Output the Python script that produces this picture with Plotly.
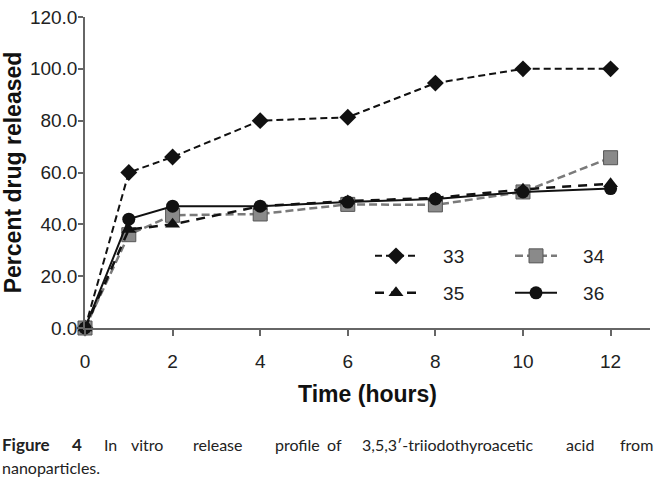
"""
In vitro release profile (Figure 4) rebuilt with Plotly.
"""

import plotly.graph_objects as go

# ───────── data ─────────
time_h = [0, 1, 2, 4, 6, 8, 10, 12]
s33 = [0, 60.0, 66.0, 80.0, 81.3, 94.5, 100.0, 100.0]
s34 = [0, 36.0, 43.5, 44.0, 47.7, 47.5, 52.5, 65.7]
s35 = [0, 38.0, 40.0, 47.0, 49.0, 50.2, 53.5, 55.7]
s36 = [0, 42.0, 47.0, 47.0, 48.6, 49.8, 52.5, 53.8]

x_ticks = [0, 2, 4, 6, 8, 10, 12]
y_ticks = [0, 20, 40, 60, 80, 100, 120]

caption_words = ["<b>Figure</b>", "<b>4</b>", "In", "vitro", "release", "profile",
                 "of", "3,5,3′-triiodothyroacetic", "acid", "from"]
# centre of each word in the justified first line (px)
caption_word_px = [0, 77, 110, 147, 218, 297, 334, 447, 580, 655]
caption_line2 = "nanoparticles."

# plot area in pixels (for placing caption words)
L, R, T, B = 85, 5, 17, 152
W, H = 655, 480
PW, PH = W - L - R, H - T - B

fig = go.Figure()

# ═══════════════ series ═══════════════
pad = "\u00a0" * 4
fig.add_trace(go.Scatter(
    x=time_h, y=s33, name=pad + "33", mode="lines+markers", legend="legend",
    line=dict(color="#111111", width=2, dash="7px,4px"),
    marker=dict(symbol="diamond", size=13, color="#111111"),
    cliponaxis=False,
))
fig.add_trace(go.Scatter(
    x=time_h, y=s34, name=pad + "34", mode="lines+markers", legend="legend",
    legendwidth=50,
    line=dict(color="#7a7a7a", width=2.5, dash="8px,4px"),
    marker=dict(symbol="square", size=14, color="#8a8a8a",
                line=dict(color="#555555", width=1)),
    cliponaxis=False,
))
fig.add_trace(go.Scatter(
    x=time_h, y=s35, name=pad + "35", mode="lines+markers", legend="legend2",
    line=dict(color="#111111", width=2.5, dash="9px,7px"),
    marker=dict(symbol="triangle-up", size=13, color="#111111"),
    cliponaxis=False,
))
fig.add_trace(go.Scatter(
    x=time_h, y=s36, name=pad + "36", mode="lines+markers", legend="legend2",
    legendwidth=50,
    line=dict(color="#111111", width=2),
    marker=dict(symbol="circle", size=13, color="#111111"),
    cliponaxis=False,
))

# ═══════════════ caption ═══════════════
cap_font = dict(family="Lato, 'Open Sans', sans-serif", size=16, color="#222222")
n_words = len(caption_words)
for i, (word, px) in enumerate(zip(caption_words, caption_word_px)):
    anchor = "left" if i == 0 else ("right" if i == n_words - 1 else "center")
    fig.add_annotation(
        text=word, xref="paper", yref="paper",
        x=(px - L) / PW, y=(H - B - 444) / PH,
        xanchor=anchor, yanchor="middle", showarrow=False,
        font=dict(cap_font, size=17) if word.startswith("<b>") else cap_font,
    )
fig.add_annotation(
    text=caption_line2, xref="paper", yref="paper",
    x=(0 - L) / PW, y=(H - B - 467) / PH,
    xanchor="left", yanchor="middle", showarrow=False, font=cap_font,
)

# ═══════════════ layout ═══════════════
legend_common = dict(
    orientation="h", xanchor="left", yanchor="middle",
    font=dict(family="Liberation Sans, Arial, sans-serif", size=19, color="#222222"),
    bgcolor="rgba(0,0,0,0)", itemwidth=42, entrywidth=83,
    itemclick=False,
)
fig.update_layout(
    width=W, height=H, autosize=False,
    margin=dict(l=L, r=R, t=T, b=B),
    paper_bgcolor="white", plot_bgcolor="white",
    font=dict(family="Liberation Sans, Arial, sans-serif", color="#222222"),
    legend=dict(**legend_common, x=(370 - L) / PW, y=(H - B - 256) / PH),
    legend2=dict(**legend_common, x=(370 - L) / PW, y=(H - B - 293) / PH),
)

fig.update_xaxes(
    range=[0, 12.9], tickvals=x_ticks, automargin=False,
    showline=True, linecolor="#666666", linewidth=1.5,
    ticks="outside", ticklen=6, tickcolor="#666666", tickwidth=1.5,
    ticklabelstandoff=9,
    tickfont=dict(size=19, color="#222222"),
    showgrid=False, zeroline=False,
    title=dict(text="<b>Time (hours)</b>", font=dict(size=23, color="#111111"), standoff=15),
)
fig.update_yaxes(
    range=[0, 120], tickvals=y_ticks, tickformat=".1f", automargin=False,
    showline=True, linecolor="#666666", linewidth=1.5,
    ticks="outside", ticklen=5, tickcolor="#666666", tickwidth=1.5,
    ticklabelstandoff=-3,
    tickfont=dict(size=19, color="#222222"),
    showgrid=False, zeroline=False,
    title=dict(text="<b>Percent drug released</b>", font=dict(size=23, color="#111111"), standoff=4),
)

# drop the page's default body margin so the figure sits at the window origin
post = "document.body.style.margin='0';document.body.style.overflow='hidden';"
fig.write_html(
    "out.html",
    config={"displayModeBar": False, "responsive": False},
    post_script=post,
)
